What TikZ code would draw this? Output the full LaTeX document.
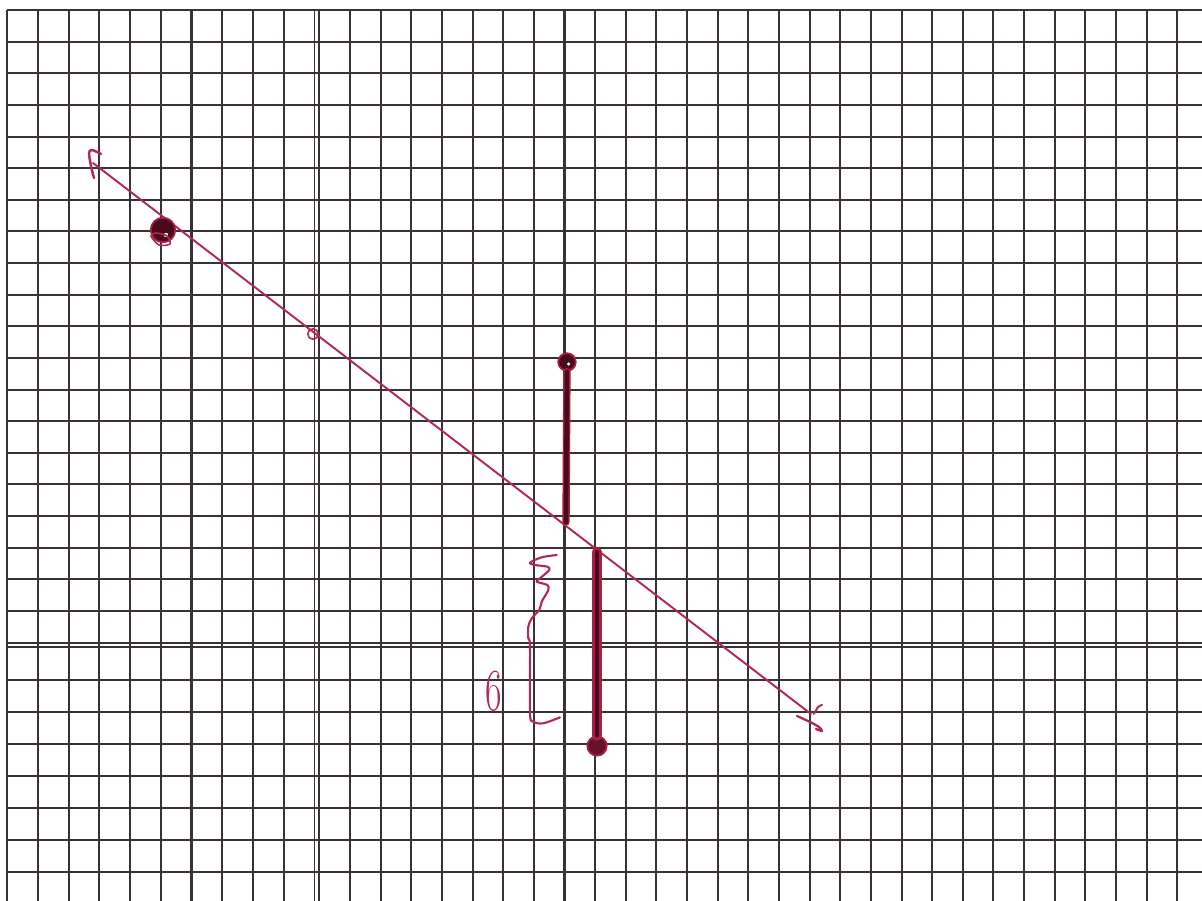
\documentclass[tikz,border=0pt]{standalone}
\definecolor{gridc}{HTML}{3A3232}
\definecolor{pen}{HTML}{B02A50}
\definecolor{ink}{HTML}{4A0A1C}
\definecolor{inkred}{HTML}{A8204A}
\begin{document}
\begin{tikzpicture}[x=0.02cm,y=-0.02cm,
  gridline/.style={draw=gridc,line width=1.15pt},
  thinpair/.style={draw=gridc,line width=1.1pt},
  penline/.style={draw=pen,line width=1.1pt,line cap=round,line join=round},
  inkdot/.style={circle,fill=ink,draw=inkred,line width=1pt,inner sep=0pt},
  spark/.style={circle,fill=white,inner sep=0pt,minimum size=2.5pt},
  seg/.style={line cap=round}]
\useasboundingbox (0,0) rectangle (1202,901);
\fill[white] (0,0) rectangle (1202,901);

% ---- graph paper: vertical lines
\foreach \k in {0,...,9}
  \draw[gridline] ({7.3+30.7*\k},10) -- ({7.3+30.7*\k},901);
\draw[thinpair] (314.5,10) -- (314.5,901);
\draw[thinpair] (319,10) -- (319,901);
\foreach \k in {11,...,38}
  \draw[gridline] ({350+30.64*(\k-11)},10) -- ({350+30.64*(\k-11)},901);
% ---- horizontal lines
\foreach \r in {0,...,19}
  \draw[gridline] (7.3,{10+31.63*\r}) -- (1202,{10+31.63*\r});
\draw[thinpair] (7.3,642.8) -- (1202,642.8);
\draw[thinpair] (7.3,647.3) -- (1202,647.3);
\foreach \r in {21,...,27}
  \draw[gridline] (7.3,{680+31.95*(\r-21)}) -- (1202,{680+31.95*(\r-21)});

% ---- the red line with hand-drawn arrow ends
\coordinate (A) at (93,163);
\coordinate (B) at (811,714);
\draw[penline] (A) -- (B);
\draw[penline, line width=1.4pt] plot[smooth] coordinates {(101,154) (92,150) (89,153) (91,166) (94,178)};
\draw[penline, line width=1.3pt] plot[smooth] coordinates {(797,716) (810,722) (819,727) (822,731) (816,729)};
\draw[penline] plot[smooth] coordinates {(814,714) (818,707) (822,705)};
% small open mark on the line
\node[circle,draw=pen,line width=0.9pt,inner sep=0pt,minimum size=6pt] (m) at (313,334) {};

% ---- dot near upper left
\node[inkdot,minimum size=14pt] (P1) at (163,230) {};
\node[spark] (s1) at (166,235) {};
\draw[pen,line width=0.9pt] plot[smooth cycle] coordinates {(151,236) (159,245) (170,244) (167,236) (156,233)};

% ---- upper vertical segment
\node[inkdot,minimum size=10pt] (P2) at (567,362) {};
\node[spark,minimum size=2pt] (s2) at (568.5,364) {};
\coordinate (T2) at (566,522);
\draw[seg,draw=inkred,line width=4.2pt] (P2) -- (T2);
\draw[seg,draw=ink,line width=2.6pt] (P2) -- (T2);

% ---- lower vertical segment
\coordinate (T3) at (597,552);
\node[inkdot,minimum size=11pt,fill=ink!70!inkred] (P3) at (597,746) {};
\draw[seg,draw=inkred,line width=6pt] (T3) -- (P3);
\draw[seg,draw=ink,line width=2.6pt] (T3) -- (P3);

% ---- hand-drawn brace and label
\draw[penline,line width=1.2pt] plot[smooth] coordinates {
  (556.7,555) (541.7,557.3) (530,562.7) (535,565) (547.3,566.7) (549.3,570)
  (540,578.3) (536.7,581.7) (547.3,585) (548.3,590) (541.7,601.7)
  (539.3,610) (531.7,618.3) (528.3,626.7) (528.3,638.3) (530,646.7)
  (530,713.3) (533.3,721.7) (543.3,723.3) (560,717.3)};
\node[text=pen,xscale=0.6,inner sep=0pt,font=\fontsize{34}{34}\selectfont] (six) at (494,691) {6};
\end{tikzpicture}
\end{document}
